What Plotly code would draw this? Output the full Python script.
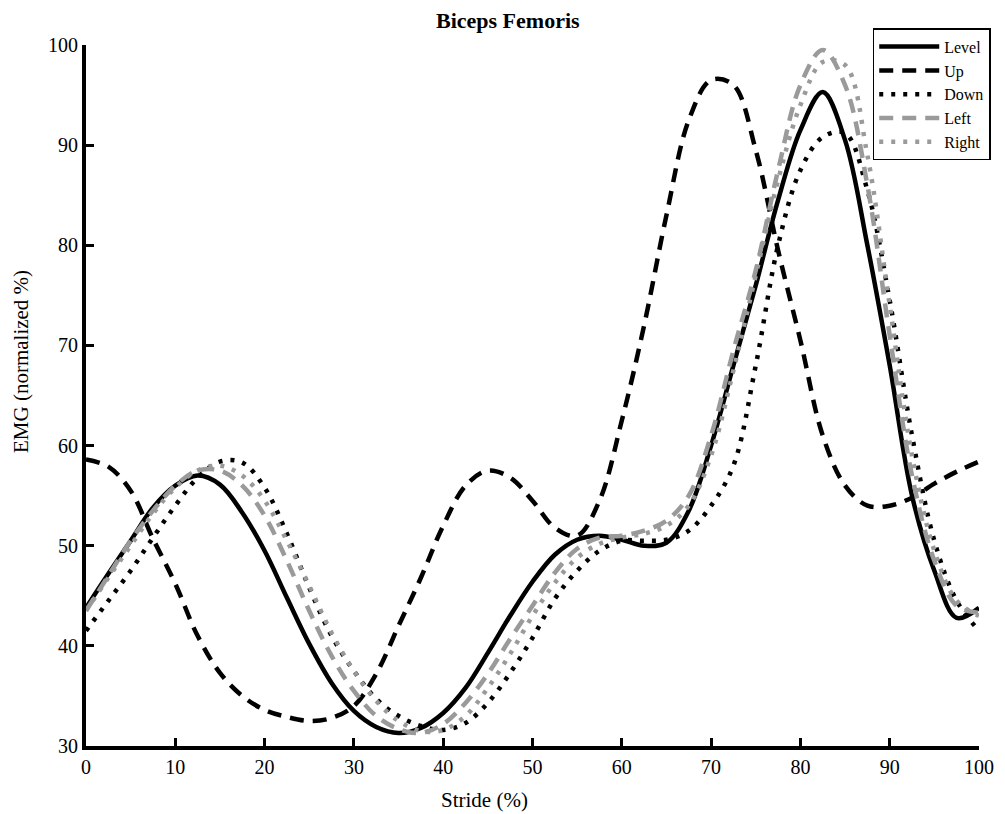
import plotly.graph_objects as go

stride = [0, 2.5, 5, 7.5, 10, 12.5, 15, 17.5, 20, 22.5, 25, 27.5, 30, 32.5, 35, 37.5, 40,
          42.5, 45, 47.5, 50, 52.5, 55, 57.5, 60, 62.5, 65, 67.5, 70, 72.5, 75, 77.5, 80,
          82.5, 85, 87.5, 90, 92.5, 95, 97.5, 100]

level = [43.8, 47.2, 50.5, 53.8, 56.0, 57.0, 56.1, 53.3, 49.5, 44.8, 40.2, 36.3, 33.5, 31.9,
         31.3, 31.8, 33.3, 35.8, 39.3, 43.0, 46.4, 49.1, 50.6, 51.0, 50.6, 50.0, 50.3, 53.5,
         60.0, 68.0, 76.0, 84.5, 91.5, 95.3, 90.5, 80.0, 68.0, 55.0, 47.5, 42.8, 43.8]

up = [58.6, 57.9, 55.5, 50.7, 46.2, 41.0, 37.3, 35.0, 33.6, 32.9, 32.5, 32.8, 34.0, 37.2,
      42.0, 46.8, 52.0, 56.0, 57.5, 56.8, 54.5, 51.8, 51.0, 54.5, 62.5, 72.0, 83.0, 92.5,
      96.5, 96.0, 89.5, 79.5, 70.5, 61.0, 56.0, 54.0, 54.0, 54.8, 56.2, 57.4, 58.4]

down = [41.5, 44.5, 47.5, 50.8, 54.0, 56.8, 58.4, 58.3, 55.8, 51.2, 45.8, 41.0, 37.5, 34.7,
        33.0, 32.0, 31.6, 32.3, 34.3, 37.3, 40.8, 44.7, 47.5, 49.5, 50.5, 50.5, 50.6, 51.5,
        54.0, 58.0, 68.0, 80.0, 87.5, 90.8, 91.2, 85.5, 74.5, 61.0, 50.5, 44.5, 41.5]

left = [43.5, 47.0, 50.5, 53.5, 56.0, 57.5, 57.5, 56.0, 53.0, 48.5, 43.5, 39.0, 35.5, 33.0,
        31.7, 31.3, 32.2, 34.3, 37.2, 40.7, 44.0, 47.3, 49.7, 50.8, 51.0, 51.5, 52.5, 55.0,
        61.0, 69.5, 77.5, 87.5, 96.0, 99.5, 96.0, 86.0, 71.0, 57.0, 48.5, 44.0, 43.3]

right = [43.5, 46.8, 50.0, 53.2, 55.8, 57.5, 58.0, 57.0, 54.5, 50.5, 46.0, 41.3, 37.5, 34.5,
         32.5, 31.5, 31.6, 33.0, 35.8, 39.2, 43.0, 46.3, 48.8, 50.2, 50.8, 51.2, 52.0, 54.0,
         59.0, 67.5, 77.0, 86.5, 94.0, 98.3, 98.0, 89.0, 74.0, 59.0, 49.5, 44.5, 43.0]

series = [
    ("Level", level, "black", "solid"),
    ("Up", up, "black", "14px,9px"),
    ("Down", down, "black", "4px,8px"),
    ("Left", left, "#9a9a9a", "14px,9px"),
    ("Right", right, "#9a9a9a", "4px,8px"),
]

FONT = "Liberation Serif"

fig = go.Figure()
for name, vals, color, dash in series:
    fig.add_trace(go.Scatter(
        x=stride, y=vals, name=name, mode="lines",
        line=dict(color=color, width=4.5, dash=dash, shape="spline", smoothing=1.0),
    ))


def px_to_paper(px, py):
    return (px - 86) / 893, (746 - py) / 701


tx, ty = px_to_paper(508, 21)
sx, sy = px_to_paper(484, 800)
ex, ey = px_to_paper(21, 362)

fig.update_layout(
    width=1005, height=814,
    margin=dict(l=86, r=26, t=45, b=68),
    paper_bgcolor="white", plot_bgcolor="white",
    font=dict(family=FONT, color="black", size=18),
    showlegend=True,
    legend=dict(
        x=0.881, y=1.024, xanchor="left", yanchor="top",
        bgcolor="white", bordercolor="black", borderwidth=1.5,
        font=dict(family=FONT, size=16, color="black"),
        itemwidth=60, tracegroupgap=0,
    ),
    annotations=[
        dict(text="<b>Biceps Femoris</b>", x=tx, y=ty, xref="paper", yref="paper",
             xanchor="center", yanchor="middle", showarrow=False,
             font=dict(family=FONT, size=22, color="black")),
        dict(text="Stride (%)", x=sx, y=sy, xref="paper", yref="paper",
             xanchor="center", yanchor="middle", showarrow=False,
             font=dict(family=FONT, size=21, color="black")),
        dict(text="EMG (normalized %)", x=ex, y=ey, xref="paper", yref="paper",
             xanchor="center", yanchor="middle", showarrow=False, textangle=-90,
             font=dict(family=FONT, size=21, color="black")),
    ],
)

fig.update_xaxes(
    range=[0, 100], tickmode="array", tickvals=list(range(0, 101, 10)),
    showgrid=False, zeroline=False, showline=True, linecolor="black", linewidth=4,
    ticks="inside", ticklen=8, tickwidth=3, tickcolor="black",
    tickfont=dict(family=FONT, size=20, color="black"),
)
fig.update_yaxes(
    range=[30, 100], tickmode="array", tickvals=list(range(30, 101, 10)),
    showgrid=False, zeroline=False, showline=True, linecolor="black", linewidth=4,
    ticks="inside", ticklen=8, tickwidth=3, tickcolor="black",
    tickfont=dict(family=FONT, size=20, color="black"),
)

fig.write_html("out.html")
